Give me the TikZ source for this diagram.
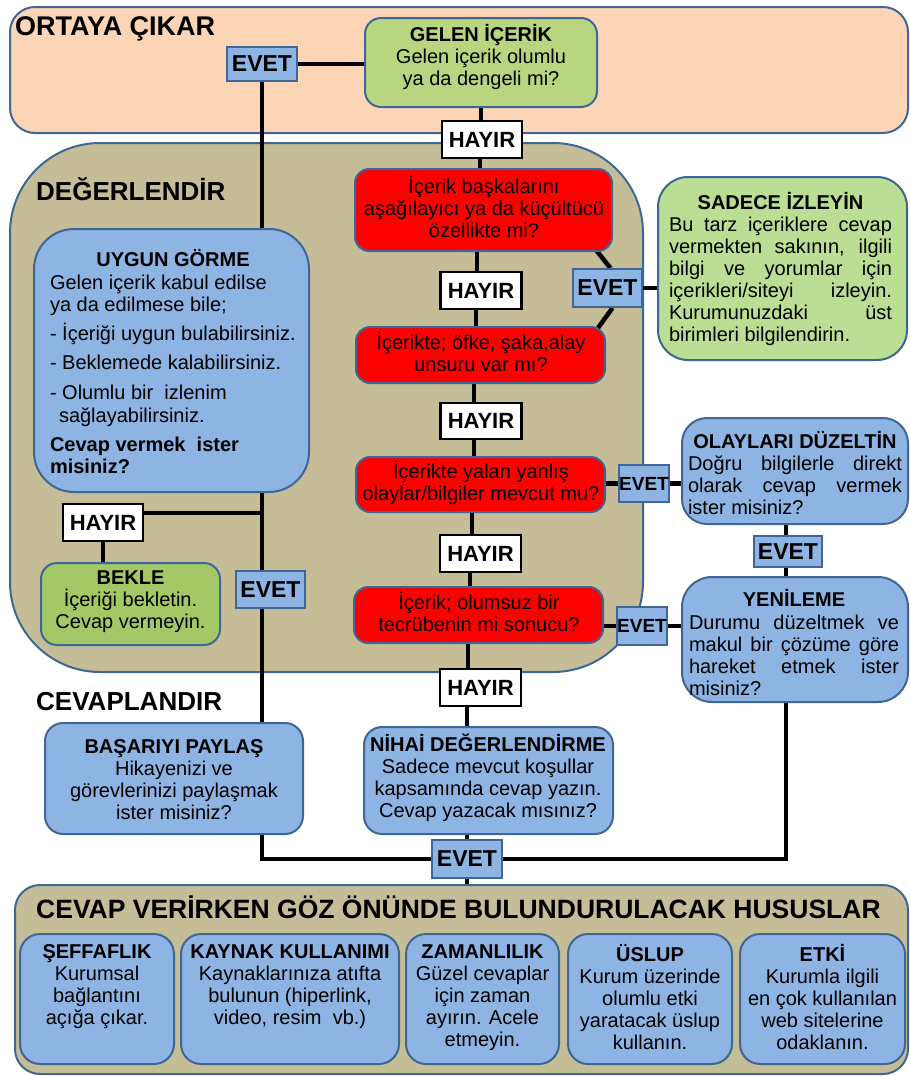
\documentclass[tikz,border=0pt]{standalone}
\usepackage{fontspec}
\setmainfont{Liberation Sans}
\usetikzlibrary{calc}
\definecolor{peach}{HTML}{FBD5B6}
\definecolor{khaki}{HTML}{C4BD97}
\definecolor{boxblue}{HTML}{8DB4E2}
\definecolor{edge}{HTML}{3F6796}
\definecolor{leafgreen}{HTML}{BAD57F}
\definecolor{waitgreen}{HTML}{A4C866}
\definecolor{watchgreen}{HTML}{B9DE94}
\definecolor{alarm}{HTML}{FF0000}
\pgfdeclarelayer{panels}
\pgfdeclarelayer{wires}
\pgfsetlayers{panels,wires,main}
\newcommand{\setpx}[1]{\fontsize{#1}{22}\selectfont}
\tikzset{
  dims/.style 2 args={minimum width=#1, minimum height=#2},
  panel/.style={draw=edge, line width=2pt, inner sep=0pt},
  card/.style={draw=edge, line width=2pt, inner sep=0pt, fill=boxblue},
  redcard/.style={card, fill=alarm, rounded corners=14pt},
  minicard/.style={card, rounded corners=20pt, minimum height=130pt},
  yesbox/.style={draw=edge, line width=1.8pt, fill=boxblue, inner sep=0pt, font=\bfseries\setpx{23}},
  nobox/.style={draw=black, line width=2.2pt, fill=white, inner sep=0pt,
    minimum width=80pt, minimum height=37pt, font=\bfseries\setpx{22}},
  txt/.style={inner sep=0pt, align=center, font=\setpx{20}},
  jtxt/.style={inner sep=0pt, align=left, font=\setpx{20}},
  heading/.style={inner sep=0pt, anchor=base west, font=\bfseries\setpx{26}},
  wire/.style={line width=4.5pt, line join=miter},
}
\begin{document}
\begin{tikzpicture}[x=1pt,y=-1pt]
\useasboundingbox (0,0) rectangle (910,1077);

% stage panels
\begin{pgfonlayer}{panels}
\node[panel, fill=peach, rounded corners=25pt, dims={898pt}{126pt}] (reveal) at (459,70) {};
\node[panel, fill=khaki, rounded corners=90pt, dims={633pt}{529pt}] (assess) at (326.5,407.5) {};
\node[panel, fill=khaki, rounded corners=25pt, dims={893pt}{189pt}] (notes) at (461.5,979.5) {};
\end{pgfonlayer}

\node[heading, font=\bfseries\setpx{27}] (t-reveal) at (15,35) {ORTAYA ÇIKAR};
\node[heading] (t-assess) at (36,200) {DEĞERLENDİR};
\node[heading] (t-respond) at (36,710.5) {CEVAPLANDIR};
\node[heading, font=\bfseries\setpx{26.5}] (t-notes) at (36,918.5) {CEVAP VERİRKEN GÖZ ÖNÜNDE BULUNDURULACAK HUSUSLAR};

% incoming content
\node[card, fill=leafgreen, rounded corners=16pt, dims={232pt}{89pt}] (incoming) at (481,62.5) {};
\node[txt] (incoming-t) at (481,57.5) {\textbf{GELEN İÇERİK}\\Gelen içerik olumlu\\ya da dengeli mi?};

% question chain
\node[redcard, dims={257pt}{82pt}] (q1) at (483.5,210) {};
\node[txt] (q1-t) at (484,207) {İçerik başkalarını\\aşağılayıcı ya da küçültücü\\özellikte mi?};
\node[redcard, dims={249pt}{56pt}] (q2) at (480.5,355) {};
\node[txt] (q2-t) at (481,352) {İçerikte; öfke, şaka,alay\\unsuru var mı?};
\node[redcard, dims={249pt}{55pt}] (q3) at (480.5,484.5) {};
\node[txt] (q3-t) at (481,483) {İçerikte yalan yanlış\\olaylar/bilgiler mevcut mu?};
\node[redcard, dims={249pt}{56pt}] (q4) at (478.5,615) {};
\node[txt] (q4-t) at (479,612) {İçerik; olumsuz bir\\tecrübenin mi sonucu?};

% right-hand outcomes
\node[card, fill=watchgreen, rounded corners=30pt, dims={249pt}{183pt}] (watch) at (782.5,268.5) {};
\node[jtxt] (watch-t) at (780.5,269) {\makebox[223pt][c]{\bfseries SADECE İZLEYİN}\\
\makebox[223pt][s]{Bu tarz içeriklere cevap}\\
\makebox[223pt][s]{vermekten sakının, ilgili}\\
\makebox[223pt][s]{bilgi ve yorumlar için}\\
\makebox[223pt][s]{içerikleri/siteyi izleyin.}\\
\makebox[223pt][s]{Kurumunuzdaki üst}\\
\makebox[223pt][l]{birimleri bilgilendirin.}};

\node[card, rounded corners=25pt, dims={226pt}{106pt}] (facts) at (795,471) {};
\node[jtxt] (facts-t) at (795,473) {\makebox[214pt][c]{\bfseries OLAYLARI DÜZELTİN}\\
\makebox[214pt][s]{Doğru bilgilerle direkt}\\
\makebox[214pt][s]{olarak cevap vermek}\\
\makebox[214pt][l]{ister misiniz?}};

\node[card, rounded corners=30pt, dims={226pt}{125pt}] (renew) at (795,639.5) {};
\node[jtxt] (renew-t) at (794,642.5) {\makebox[210pt][c]{\bfseries YENİLEME}\\[1pt]
\makebox[210pt][s]{Durumu düzeltmek ve}\\
\makebox[210pt][s]{makul bir çözüme göre}\\
\makebox[210pt][s]{hareket etmek ister}\\
\makebox[210pt][l]{misiniz?}};

% left-hand outcomes
\node[card, rounded corners=40pt, dims={275pt}{263pt}] (fit) at (171.5,360.5) {};
\node[jtxt] (fit-t) at (173,362) {\makebox[246pt][c]{\bfseries UYGUN GÖRME}\\[1pt]
Gelen içerik kabul edilse\\
ya da edilmese bile;\\[7pt]
- İçeriği uygun bulabilirsiniz.\\[7pt]
- Beklemede kalabilirsiniz.\\[8pt]
- Olumlu bir\ \ izlenim\\[1pt]
\hspace*{9pt}sağlayabilirsiniz.\\[7pt]
\textbf{Cevap vermek\ \ ister}\\
\textbf{misiniz?}};

\node[card, fill=waitgreen, rounded corners=16pt, dims={179pt}{82pt}] (wait) at (130.5,604) {};
\node[txt] (wait-t) at (130.5,601.5) {\textbf{BEKLE}\\İçeriği bekletin.\\Cevap vermeyin.};

% response stage
\node[card, rounded corners=18pt, dims={258pt}{111pt}] (share) at (174,778.5) {};
\node[txt] (share-t) at (174,780) {\textbf{BAŞARIYI PAYLAŞ}\\Hikayenizi ve\\görevlerinizi paylaşmak\\ister misiniz?};
\node[card, rounded corners=18pt, dims={249pt}{107pt}] (final) at (488.5,780.5) {};
\node[txt] (final-t) at (488,777.5) {\textbf{NİHAİ DEĞERLENDİRME}\\Sadece mevcut koşullar\\kapsamında cevap yazın.\\Cevap yazacak mısınız?};

% points to keep in mind
\node[minicard, minimum width=154pt] (k1) at (97,999) {};
\node[txt] (k1-t) at (97,986.5) {\textbf{ŞEFFAFLIK}\\Kurumsal\\bağlantını\\açığa çıkar.};
\node[minicard, minimum width=218pt] (k2) at (290,999) {};
\node[txt] (k2-t) at (290,986.5) {\textbf{KAYNAK KULLANIMI}\\Kaynaklarınıza atıfta\\bulunun (hiperlink,\\video, resim\ \ vb.)};
\node[minicard, minimum width=153pt] (k3) at (482.5,999) {};
\node[txt] (k3-t) at (482.5,997.5) {\textbf{ZAMANLILIK}\\Güzel cevaplar\\için zaman\\ayırın. Acele\\etmeyin.};
\node[minicard, minimum width=164pt] (k4) at (650,999) {};
\node[txt] (k4-t) at (650,997.5) {\textbf{ÜSLUP}\\Kurum üzerinde\\olumlu etki\\yaratacak üslup\\kullanın.};
\node[minicard, minimum width=165pt] (k5) at (822.5,999) {};
\node[txt] (k5-t) at (822.5,997.5) {\textbf{ETKİ}\\Kurumla ilgili\\en çok kullanılan\\web sitelerine\\odaklanın.};

% yes / no labels
\node[yesbox, dims={70pt}{34pt}] (y0) at (262,64) {EVET};
\node[nobox] (n1) at (482,139.5) {HAYIR};
\node[nobox, dims={81pt}{37pt}] (n2) at (481,290.5) {HAYIR};
\node[nobox, dims={81pt}{36pt}] (n3) at (481,421) {HAYIR};
\node[nobox, dims={81pt}{37pt}] (n4) at (480.5,553.5) {HAYIR};
\node[nobox, dims={81pt}{37pt}] (n5) at (480.5,687.5) {HAYIR};
\node[yesbox, dims={69pt}{38pt}] (y1) at (607.5,288) {EVET};
\node[yesbox, dims={50pt}{37pt}, font=\bfseries\setpx{19}] (y3) at (644,483.5) {EVET};
\node[yesbox, dims={50pt}{38pt}, font=\bfseries\setpx{19}] (y4) at (642,626) {EVET};
\node[yesbox, dims={68pt}{31pt}] (y5) at (788,551.5) {EVET};
\node[nobox] (n0) at (103,522.5) {HAYIR};
\node[yesbox, dims={69pt}{37pt}] (y2) at (270.5,589.5) {EVET};
\node[yesbox, dims={70pt}{38pt}] (y6) at (467,859) {EVET};

% guide lines for the connector runs
\coordinate (lx) at (262,0);
\coordinate (jl) at (262,513);
\coordinate (rx) at (786,0);
\coordinate (c1) at (481,0);
\coordinate (c2) at (480,0);
\coordinate (c3) at (477,0);
\coordinate (c4) at (476,0);
\coordinate (c5) at (474,0);
\coordinate (c6) at (472,0);
\coordinate (c7) at (470,0);
\coordinate (c8) at (468,0);
\coordinate (c9) at (467,0);

\begin{pgfonlayer}{wires}
% left branch
\draw[wire] (y0.east) -- (y0.east -| incoming.west);
\draw[wire] (y0.south -| lx) -- (fit.north -| lx);
\draw[wire] (fit.south -| lx) -- (y2.north -| lx);
\draw[wire] (y2.south -| lx) |- (y6.west);
\draw[wire] (jl) -- (jl -| n0.east);
\draw[wire] (n0.south) -- (n0.south |- wait.north);
% main chain
\draw[wire] (incoming.south -| c1) -- (n1.north -| c1);
\draw[wire] (n1.south -| c2) -- (q1.north -| c2);
\draw[wire] (q1.south -| c3) -- (n2.north -| c3);
\draw[wire] (n2.south -| c4) -- (q2.north -| c4);
\draw[wire] (q2.south -| c5) -- (n3.north -| c5);
\draw[wire] (n3.south -| c5) -- (q3.north -| c5);
\draw[wire] (q3.south -| c6) -- (n4.north -| c6);
\draw[wire] (n4.south -| c7) -- (q4.north -| c7);
\draw[wire] (q4.south -| c8) -- (n5.north -| c8);
\draw[wire] (n5.south -| c9) -- (final.north -| c9);
\draw[wire] (final.south -| c9) -- (y6.north -| c9);
\draw[wire] (y6.south) -- (y6.south |- notes.north);
% right branch
\draw[wire] ($(q1.south east)+(-17,-2)$) -- ($(y1.north)+(3,0)$);
\draw[wire] ($(q2.north east)+(-8,2)$) -- ($(y1.south)+(5,0)$);
\draw[wire] (y1.east) -- (y1.east -| watch.west);
\draw[wire] (y3.west -| q3.east) -- (y3.west);
\draw[wire] (y3.east) -- (y3.east -| facts.west);
\draw[wire] (facts.south -| rx) -- (y5.north -| rx);
\draw[wire] (y5.south -| rx) -- (renew.north -| rx);
\draw[wire] (y4.west -| q4.east) -- (y4.west);
\draw[wire] (y4.east) -- (y4.east -| renew.west);
\draw[wire] (renew.south -| rx) |- (y6.east);
\end{pgfonlayer}
\end{tikzpicture}
\end{document}
